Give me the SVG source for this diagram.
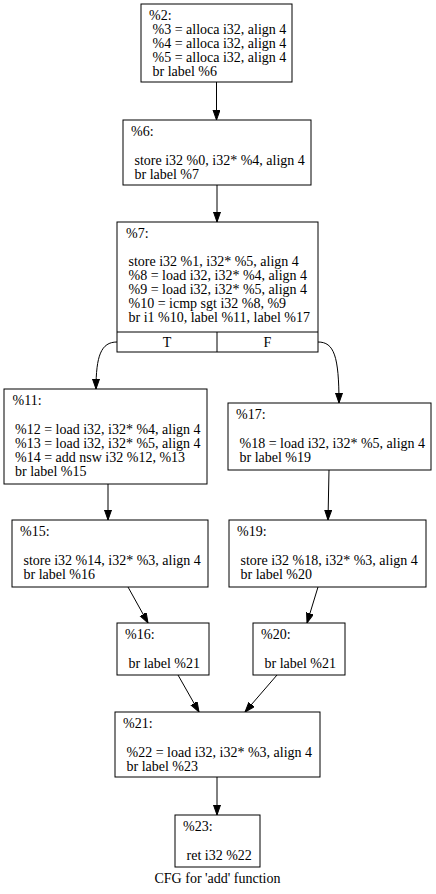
<svg xmlns="http://www.w3.org/2000/svg" width="436" height="894" viewBox="0 0 436 894">
<defs>
<style>
.box{fill:#fff;stroke:#000;stroke-width:1}
text{font-family:"Liberation Serif","Times New Roman",serif;font-size:14px;fill:#000}
.mid{text-anchor:middle}
.edge{fill:none;stroke:#000;stroke-width:1;marker-end:url(#arr)}
</style>
<marker id="arr" markerUnits="userSpaceOnUse" markerWidth="10" markerHeight="8" refX="10" refY="3.5" orient="auto">
<path d="M0,0 L10,3.5 L0,7 z" fill="#000" stroke="#000" stroke-width="1"/>
</marker>
</defs>
<rect width="436" height="894" fill="#fff"/>
<g id="connectors">
<path class="edge" d="M216.5,82 L216.5,120"/>
<path class="edge" d="M217,185 L217,222"/>
<path class="edge" d="M117,342 C101,342 96,356 96,389"/>
<path class="edge" d="M318,342 C334,342 339,356 339,403"/>
<path class="edge" d="M108,484 L108,520"/>
<path class="edge" d="M329,470 L328,520"/>
<path class="edge" d="M128,587 L148,623"/>
<path class="edge" d="M318,587 L307,623"/>
<path class="edge" d="M178,675 L199,712"/>
<path class="edge" d="M277,675 L245,712"/>
<path class="edge" d="M217,777 L217,815"/>
</g>
<g id="n2">
<rect class="box" x="141" y="4" width="151" height="78"/>
<text x="149" y="19.5">%2:</text>
<text x="152.5" y="33.5">%3 = alloca i32, align 4</text>
<text x="152.5" y="47.5">%4 = alloca i32, align 4</text>
<text x="152.5" y="61.5">%5 = alloca i32, align 4</text>
<text x="152.5" y="75.5">br label %6</text>
</g>
<g id="n6">
<rect class="box" x="123" y="120" width="188" height="65"/>
<text x="131" y="136">%6:</text>
<text x="134.5" y="165">store i32 %0, i32* %4, align 4</text>
<text x="134.5" y="179">br label %7</text>
</g>
<g id="n7">
<rect class="box" x="117" y="222" width="201" height="130"/>
<line x1="117" y1="332" x2="318" y2="332" stroke="#000"/>
<line x1="217" y1="332" x2="217" y2="352" stroke="#000"/>
<text x="126" y="238">%7:</text>
<text x="128.5" y="266">store i32 %1, i32* %5, align 4</text>
<text x="128.5" y="280">%8 = load i32, i32* %4, align 4</text>
<text x="128.5" y="294">%9 = load i32, i32* %5, align 4</text>
<text x="128.5" y="308">%10 = icmp sgt i32 %8, %9</text>
<text x="128.5" y="322">br i1 %10, label %11, label %17</text>
<text class="mid" x="167" y="347">T</text>
<text class="mid" x="267.5" y="347">F</text>
</g>
<g id="n11">
<rect class="box" x="4" y="389" width="203" height="95"/>
<text x="12.5" y="405">%11:</text>
<text x="15" y="434">%12 = load i32, i32* %4, align 4</text>
<text x="15" y="448">%13 = load i32, i32* %5, align 4</text>
<text x="15" y="462">%14 = add nsw i32 %12, %13</text>
<text x="15" y="476">br label %15</text>
</g>
<g id="n17">
<rect class="box" x="228" y="403" width="203" height="67"/>
<text x="236" y="419">%17:</text>
<text x="239.5" y="448">%18 = load i32, i32* %5, align 4</text>
<text x="239.5" y="462">br label %19</text>
</g>
<g id="n15">
<rect class="box" x="12" y="520" width="196" height="67"/>
<text x="20" y="536">%15:</text>
<text x="23.5" y="565">store i32 %14, i32* %3, align 4</text>
<text x="23.5" y="579">br label %16</text>
</g>
<g id="n19">
<rect class="box" x="229" y="520" width="197" height="67"/>
<text x="237" y="536">%19:</text>
<text x="240.5" y="565">store i32 %18, i32* %3, align 4</text>
<text x="240.5" y="579">br label %20</text>
</g>
<g id="n16">
<rect class="box" x="117" y="623" width="92" height="52"/>
<text x="125" y="639">%16:</text>
<text x="128.5" y="668">br label %21</text>
</g>
<g id="n20">
<rect class="box" x="253" y="623" width="92" height="52"/>
<text x="261" y="639">%20:</text>
<text x="264.5" y="668">br label %21</text>
</g>
<g id="n21">
<rect class="box" x="115" y="712" width="205" height="65"/>
<text x="123" y="728">%21:</text>
<text x="126.5" y="757">%22 = load i32, i32* %3, align 4</text>
<text x="126.5" y="771">br label %23</text>
</g>
<g id="n23">
<rect class="box" x="175" y="815" width="85" height="52"/>
<text x="183" y="831">%23:</text>
<text x="186.5" y="860">ret i32 %22</text>
</g>
<text id="title" class="mid" x="217.5" y="883">CFG for 'add' function</text>
</svg>
